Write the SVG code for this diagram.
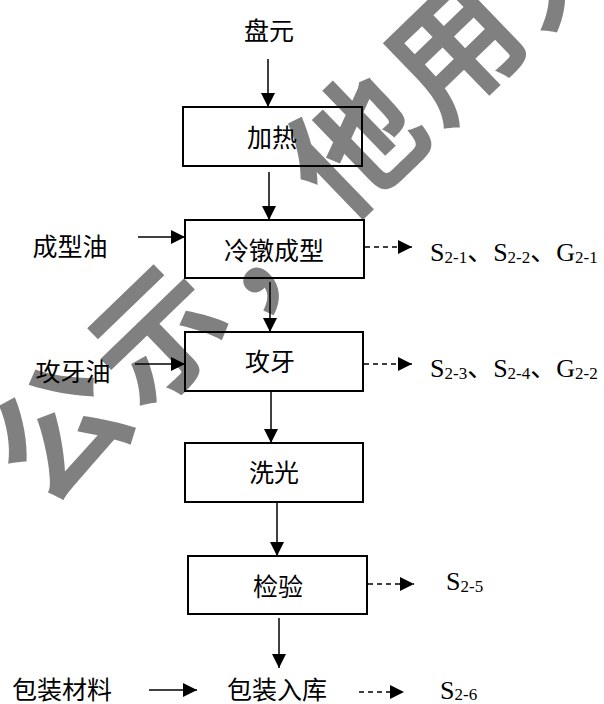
<svg xmlns="http://www.w3.org/2000/svg" width="604" height="704" viewBox="0 0 604 704">
<defs>
<style>
.bg{fill:#ffffff}
.wm{font-family:"Noto Sans CJK SC","Noto Sans",sans-serif;font-weight:700;font-size:130px;letter-spacing:7px;fill:#808080}
.box{fill:none;stroke:#000;stroke-width:2}
.cn{font-family:"Liberation Serif","Noto Sans CJK SC",serif;font-size:25px;fill:#000}
.lab{font-family:"Liberation Serif","Noto Sans CJK SC",serif;font-size:26px;fill:#000}
.sub{font-size:17px}
.ln{stroke:#000;stroke-width:1.5;fill:none}
.dash{stroke:#000;stroke-width:1.3;fill:none;stroke-dasharray:5 4}
</style>
<marker id="ah" viewBox="0 0 14 14" refX="14" refY="7" markerWidth="14" markerHeight="14" markerUnits="userSpaceOnUse" orient="auto">
<path d="M0,0 L14,7 L0,14 Z" fill="#000"/>
</marker>
</defs>
<rect class="bg" x="0" y="0" width="604" height="704"/>
<g id="watermark">
<text class="wm" transform="translate(46,510) rotate(-44)">公示，他用无效</text>
</g>
<g id="connectors">
<line class="ln" x1="268" y1="59" x2="268" y2="107" marker-end="url(#ah)"/>
<line class="ln" x1="269" y1="172" x2="269" y2="220" marker-end="url(#ah)"/>
<line class="ln" x1="270" y1="282" x2="270" y2="332" marker-end="url(#ah)"/>
<line class="ln" x1="271" y1="392" x2="271" y2="443" marker-end="url(#ah)"/>
<line class="ln" x1="277" y1="503" x2="277" y2="556" marker-end="url(#ah)"/>
<line class="ln" x1="279" y1="618" x2="279" y2="668" marker-end="url(#ah)"/>
<line class="ln" x1="138" y1="237" x2="185" y2="237" marker-end="url(#ah)"/>
<line class="ln" x1="135" y1="364" x2="185" y2="364" marker-end="url(#ah)"/>
<line class="ln" x1="149" y1="690" x2="197" y2="690" marker-end="url(#ah)"/>
<line class="dash" x1="365" y1="247" x2="412" y2="247" marker-end="url(#ah)"/>
<line class="dash" x1="364" y1="364" x2="412" y2="364" marker-end="url(#ah)"/>
<line class="dash" x1="368" y1="584" x2="414" y2="584" marker-end="url(#ah)"/>
<line class="dash" x1="359" y1="692" x2="404" y2="692" marker-end="url(#ah)"/>
</g>
<g id="n-panyuan"><text class="cn" x="269" y="40" text-anchor="middle">盘元</text></g>
<g id="n-jiare"><rect class="box" x="183" y="107" width="179" height="59"/><text class="cn" x="272" y="147" text-anchor="middle">加热</text></g>
<g id="n-lengdun"><rect class="box" x="185" y="220" width="179" height="58"/><text class="cn" x="274" y="260" text-anchor="middle">冷镦成型</text></g>
<g id="n-gongya"><rect class="box" x="185" y="332" width="178" height="59"/><text class="cn" x="270" y="371" text-anchor="middle">攻牙</text></g>
<g id="n-xiguang"><rect class="box" x="185" y="443" width="178" height="59"/><text class="cn" x="274" y="482" text-anchor="middle">洗光</text></g>
<g id="n-jianyan"><rect class="box" x="188" y="556" width="179" height="58"/><text class="cn" x="278" y="596" text-anchor="middle">检验</text></g>
<g id="n-baozhuang"><text class="cn" x="277" y="699" text-anchor="middle">包装入库</text></g>
<g id="n-chengxingyou"><text class="cn" x="70" y="256" text-anchor="middle">成型油</text></g>
<g id="n-gongyayou"><text class="cn" x="73" y="381" text-anchor="middle">攻牙油</text></g>
<g id="n-baozhuangcailiao"><text class="cn" x="62" y="699" text-anchor="middle">包装材料</text></g>
<g id="o1"><text class="lab" x="430" y="261">S<tspan class="sub" dy="2">2-1</tspan><tspan dy="-2">、S</tspan><tspan class="sub" dy="2">2-2</tspan><tspan dy="-2">、G</tspan><tspan class="sub" dy="2">2-1</tspan></text></g>
<g id="o2"><text class="lab" x="430" y="377">S<tspan class="sub" dy="2">2-3</tspan><tspan dy="-2">、S</tspan><tspan class="sub" dy="2">2-4</tspan><tspan dy="-2">、G</tspan><tspan class="sub" dy="2">2-2</tspan></text></g>
<g id="o3"><text class="lab" x="446" y="590">S<tspan class="sub" dy="2">2-5</tspan></text></g>
<g id="o4"><text class="lab" x="440" y="699">S<tspan class="sub" dy="1">2-6</tspan></text></g>
</svg>
